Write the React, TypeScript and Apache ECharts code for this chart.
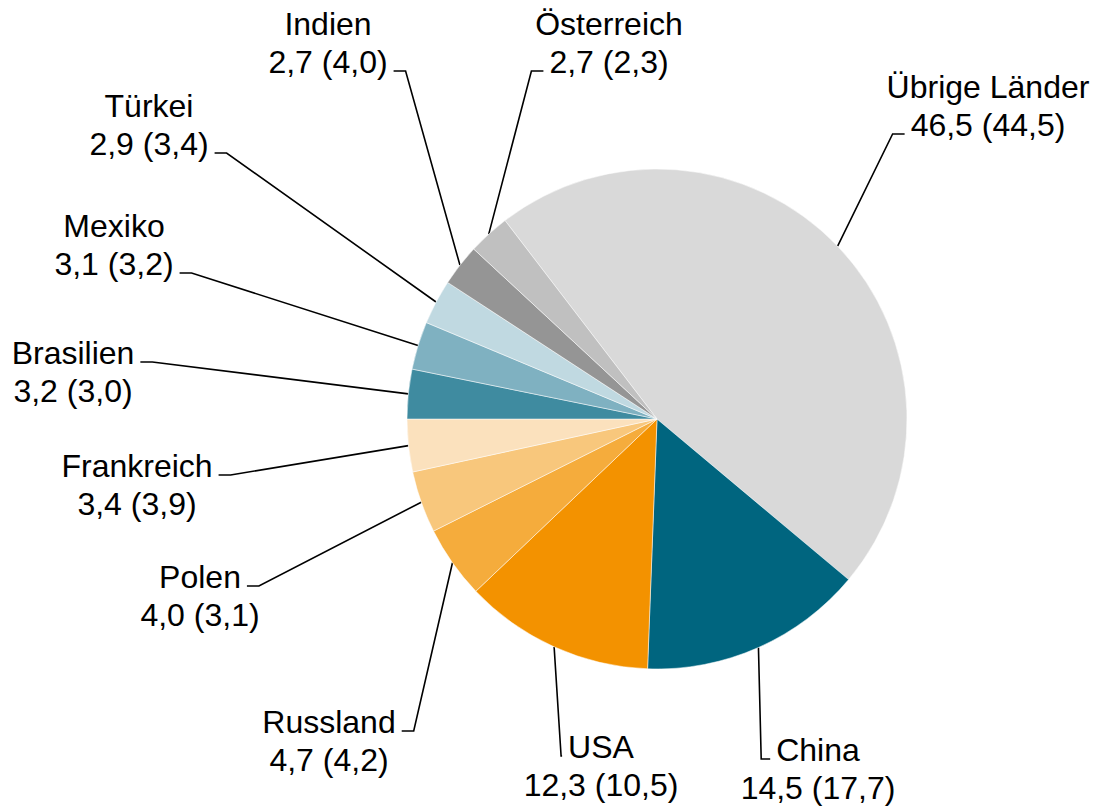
import React, { useEffect, useRef } from "react";
import * as echarts from "echarts";

// Data (clockwise from "Übrige Länder")
const countries = ["Übrige Länder", "China", "USA", "Russland", "Polen", "Frankreich", "Brasilien", "Mexiko", "Türkei", "Indien", "Österreich"];
const sharesCurrent = [46.5, 14.5, 12.3, 4.7, 4.0, 3.4, 3.2, 3.1, 2.9, 2.7, 2.7];
const sharesPrevious = [44.5, 17.7, 10.5, 4.2, 3.1, 3.9, 3.0, 3.2, 3.4, 4.0, 2.3];

// Styles
const sliceColors = ["#d9d9d9", "#00657f", "#f39200", "#f5ac3c", "#f8c77c", "#fbe1bd", "#3f8ba0", "#7fb1c1", "#c0d9e1", "#959595", "#c0c0c0"];

// Label layout (block centres), side of the leader line, text row it attaches to, horizontal segment length
const labelCenters = [[988, 106], [818, 769], [601, 766], [329, 741], [200, 596], [137, 485], [73, 372], [114, 245], [149, 125], [328, 43], [609, 43]];
const labelSide = ["left", "left", "left", "right", "right", "right", "right", "right", "right", "right", "left"];
const labelRow = [2, 1, 1, 1, 1, 1, 1, 2, 2, 2, 2];
const labelSeg = [12, 9, 1, 12, 12, 12, 12, 12, 12, 12, 12];

const FONT_SIZE = 32;
const LINE_H = 38;
const FONT_FAMILY = '"Liberation Sans", Arial, sans-serif';
const PIE_CENTER = [657, 419];
const PIE_R = 250;
const START_ANGLE = 127.44;

const fmt = (v: number) => v.toFixed(1).replace(".", ",");

export default function App() {
  const ref = useRef<HTMLDivElement>(null);
  useEffect(() => {
    document.body.style.margin = "0";
    if (!ref.current) return;
    const chart = echarts.init(ref.current, undefined, { renderer: "svg" });
    const canvas = document.createElement("canvas");
    const ctx = canvas.getContext("2d")!;
    ctx.font = `${FONT_SIZE}px ${FONT_FAMILY}`;
    const measure = (t: string) => ctx.measureText(t).width;

    const total = sharesCurrent.reduce((a, b) => a + b, 0);
    const midPoint = (i: number) => {
      let cum = 0;
      for (let k = 0; k < i; k++) cum += sharesCurrent[k];
      const midFrac = (cum + sharesCurrent[i] / 2) / total;
      const ang = ((START_ANGLE - midFrac * 360) * Math.PI) / 180;
      return [PIE_CENTER[0] + PIE_R * Math.cos(ang), PIE_CENTER[1] - PIE_R * Math.sin(ang)];
    };

    const option: any = {
      animation: false,
      backgroundColor: "#fff",
      series: [
        {
          type: "pie",
          center: PIE_CENTER,
          radius: [0, PIE_R],
          startAngle: START_ANGLE,
          clockwise: true,
          avoidLabelOverlap: false,
          itemStyle: { borderColor: "#fff", borderWidth: 0.5 },
          label: {
            show: true,
            position: "outside",
            color: "#000",
            fontSize: FONT_SIZE,
            lineHeight: LINE_H,
            fontFamily: FONT_FAMILY,
            formatter: (p: any) =>
              `${p.name}\n${fmt(sharesCurrent[p.dataIndex])} (${fmt(sharesPrevious[p.dataIndex])})`,
          },
          labelLine: {
            show: true,
            smooth: false,
            lineStyle: { color: "#000", width: 1.6 },
          },
          labelLayout: (params: any) => {
            const i = params.dataIndex;
            const [cx, cy] = labelCenters[i];
            const row = labelRow[i];
            const rowText = row === 1 ? countries[i] : `${fmt(sharesCurrent[i])} (${fmt(sharesPrevious[i])})`;
            const w = measure(rowText);
            const gap = 6;
            const seg = labelSeg[i];
            const ay = cy + (row - 1.5) * LINE_H + 9;
            const p0 = midPoint(i);
            let pts;
            if (labelSide[i] === "right") {
              const ax = cx + w / 2 + gap;
              pts = [p0, [ax + seg, ay], [ax, ay]];
            } else {
              const ax = cx - w / 2 - gap;
              pts = [p0, [ax - seg, ay], [ax, ay]];
            }
            return {
              x: cx,
              y: cy,
              align: "center",
              verticalAlign: "middle",
              labelLinePoints: pts,
            };
          },
          data: countries.map((n, i) => ({
            name: n,
            value: sharesCurrent[i],
            itemStyle: { color: sliceColors[i] },
          })),
        },
      ],
    };
    chart.setOption(option);
    return () => chart.dispose();
  }, []);
  return <div ref={ref} style={{ width: 1097, height: 807 }} />;
}
